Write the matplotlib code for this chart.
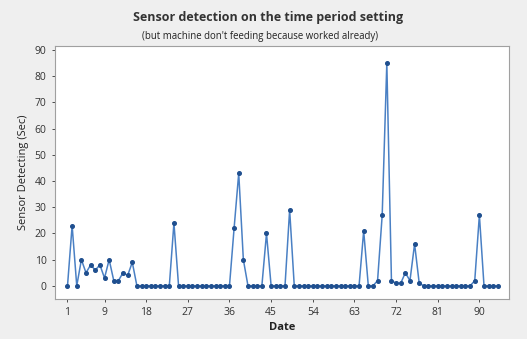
import matplotlib
matplotlib.use("Agg")
import matplotlib.pyplot as plt
import numpy as np

plt.rcParams["font.family"] = ["Open Sans", "DejaVu Sans"]

# Date index 1..94 and sensor detecting time in seconds
dates = list(range(1, 95))
seconds = [
    0, 23, 0, 10, 5, 8, 6, 8, 3, 10,          # 1-10
    2, 2, 5, 4, 9, 0, 0, 0, 0, 0,             # 11-20
    0, 0, 0, 24, 0, 0, 0, 0, 0, 0,            # 21-30
    0, 0, 0, 0, 0, 0, 22, 43, 10, 0,          # 31-40
    0, 0, 0, 20, 0, 0, 0, 0, 29, 0,           # 41-50
    0, 0, 0, 0, 0, 0, 0, 0, 0, 0,             # 51-60
    0, 0, 0, 0, 21, 0, 0, 2, 27, 85,          # 61-70
    2, 1, 1, 5, 2, 16, 1, 0, 0, 0,            # 71-80
    0, 0, 0, 0, 0, 0, 0, 0, 2, 27,            # 81-90
    0, 0, 0, 0,                               # 91-94
]
x_ticks = [1, 9, 18, 27, 36, 45, 54, 63, 72, 81, 90]
y_ticks = list(range(0, 100, 10))

fig = plt.figure(figsize=(5.27, 3.39), dpi=100)
fig.patch.set_facecolor("#efefef")
ax = fig.add_axes([55 / 527, 1 - 299 / 339, 454 / 527, 253 / 339])
ax.set_facecolor("white")

ax.plot(dates, seconds, color="#4a80c4", linewidth=1.1,
        marker="o", markersize=2.6, markerfacecolor="#1f4f8f",
        markeredgecolor="#1f4f8f")

ax.set_xlim(-1.7, 96.4)
ax.set_ylim(-5, 91.5)
ax.set_xticks(x_ticks)
ax.set_yticks(y_ticks)
ax.tick_params(labelsize=7.5, colors="#333333", length=2.5, width=0.6)
for spine in ax.spines.values():
    spine.set_color("#a0a0a0")
    spine.set_linewidth(0.8)

ax.set_xlabel("Date", fontsize=8, fontweight="bold", color="#222222", labelpad=3)
ax.set_ylabel("Sensor Detecting (Sec)", fontsize=8, color="#222222", labelpad=4)

fig.text(268 / 527, 1 - 18 / 339, "Sensor detection on the time period setting",
         ha="center", va="center", fontsize=9, fontweight="bold", color="#333333")
fig.text(260 / 527, 1 - 37 / 339, "(but machine don't feeding because worked already)",
         ha="center", va="center", fontsize=6.9, color="#222222")

fig.savefig("out.png", dpi=100, facecolor=fig.get_facecolor())
